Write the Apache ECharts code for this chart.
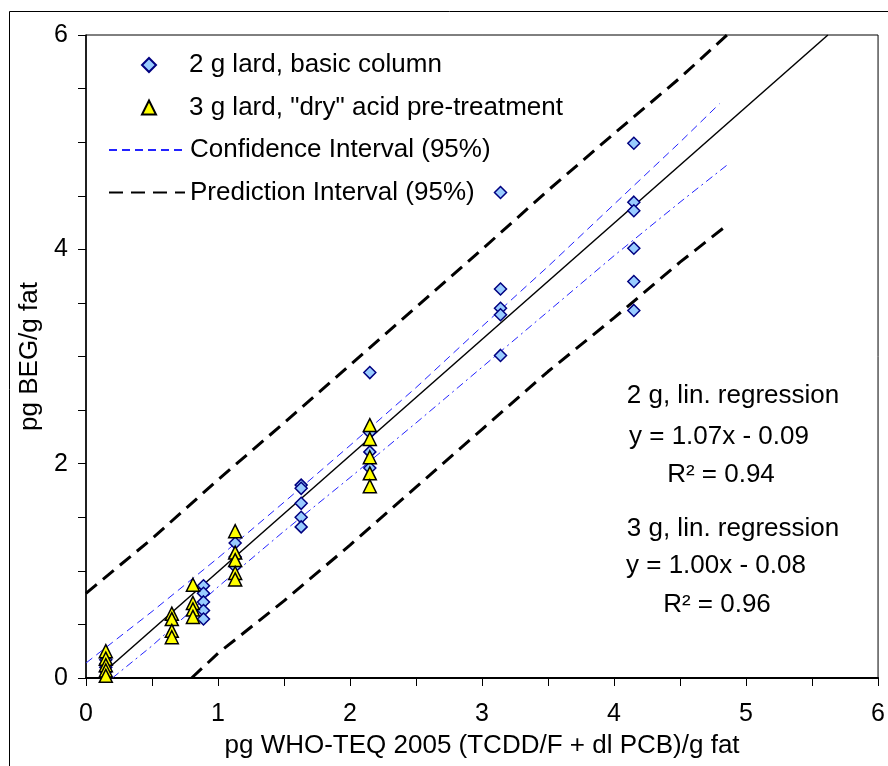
<!DOCTYPE html>
<html>
<head>
<meta charset="utf-8">
<script src="https://cdn.jsdelivr.net/npm/echarts@6/dist/echarts.min.js"></script>
<style>
html,body{margin:0;padding:0;background:#fff;}
#chart{width:888px;height:766px;}
</style>
</head>
<body>
<div id="chart"></div>
<script>
// ---- data ----
const xTicks = [0, 1, 2, 3, 4, 5, 6];
const yTicks = [0, 2, 4, 6];

const lard2g = [
  [0.15, 0.17], [0.15, 0.13], [0.15, 0.10], [0.15, 0.06],
  [0.89, 0.86], [0.89, 0.79], [0.89, 0.71], [0.89, 0.63], [0.89, 0.55],
  [1.13, 1.26], [1.13, 1.13], [1.13, 1.04],
  [1.63, 1.80], [1.63, 1.77], [1.63, 1.63], [1.63, 1.50], [1.63, 1.41],
  [2.15, 2.85], [2.15, 2.29], [2.15, 2.11], [2.15, 1.96],
  [3.14, 4.53], [3.14, 3.63], [3.14, 3.45], [3.14, 3.39], [3.14, 3.01],
  [4.15, 4.99], [4.15, 4.44], [4.15, 4.36], [4.15, 4.01], [4.15, 3.70], [4.15, 3.43]
];

const lard3g = [
  [0.15, 0.25], [0.15, 0.18], [0.15, 0.12], [0.15, 0.07], [0.15, 0.02],
  [0.65, 0.60], [0.65, 0.55], [0.65, 0.44], [0.65, 0.38],
  [0.81, 0.87], [0.81, 0.70], [0.81, 0.64], [0.81, 0.57],
  [1.13, 1.37], [1.13, 1.17], [1.13, 1.10], [1.13, 0.98], [1.13, 0.92],
  [2.15, 2.36], [2.15, 2.23], [2.15, 2.06], [2.15, 1.91], [2.15, 1.79]
];

const regressionLine = [[0.15, 0.07], [5.62, 6.0]];

const ciUpper = [[0, 0.14], [0.5, 0.62], [1, 1.12], [1.5, 1.64], [2, 2.17], [2.5, 2.71],
  [3, 3.28], [3.5, 3.84], [4, 4.42], [4.5, 5.0], [4.8, 5.36]];
const ciLower = [[0.2, 0], [0.5, 0.30], [1, 0.85], [1.5, 1.37], [2, 1.87], [2.5, 2.38],
  [3, 2.90], [3.5, 3.42], [4, 3.94], [4.5, 4.44], [4.86, 4.79]];
const piUpper = [[0, 0.79], [0.5, 1.30], [1, 1.85], [1.5, 2.38], [2, 2.92], [2.5, 3.46],
  [3, 4.00], [3.5, 4.55], [4, 5.08], [4.5, 5.60], [4.9, 6.05]];
const piLower = [[0.8, 0], [1, 0.23], [1.5, 0.72], [2, 1.24], [2.5, 1.78], [3, 2.32],
  [3.5, 2.86], [4, 3.36], [4.5, 3.88], [4.83, 4.20]];

const seriesNames = ['2 g lard, basic column', '3 g lard, "dry" acid pre-treatment',
  'Confidence Interval (95%)', 'Prediction Interval (95%)'];

const annotations = [
  {text: '2 g, lin. regression', x: 733, y: 396},
  {text: 'y = 1.07x - 0.09', x: 719, y: 437},
  {text: 'R\u00B2 = 0.94', x: 721, y: 475},
  {text: '3 g, lin. regression', x: 733, y: 529},
  {text: 'y = 1.00x - 0.08', x: 716, y: 566},
  {text: 'R\u00B2 = 0.96', x: 717, y: 605}
];

// ---- chart ----
const FONT = "'Liberation Sans', Arial, sans-serif";
const chart = echarts.init(document.getElementById('chart'), null, {renderer: 'canvas'});

const legendText = {fontSize: 26, color: '#000', fontFamily: FONT, lineHeight: 30};

const option = {
  animation: false,
  backgroundColor: '#fff',
  textStyle: {fontFamily: FONT, color: '#000'},
  grid: {left: 86, top: 35, right: 5, bottom: 88, show: true, borderColor: '#000', borderWidth: 1, backgroundColor: 'transparent'},
  xAxis: {
    type: 'value', min: 0, max: 6, interval: 0.5,
    name: 'pg WHO-TEQ 2005 (TCDD/F + dl PCB)/g fat',
    nameLocation: 'middle', nameGap: 55,
    nameTextStyle: {fontSize: 26, color: '#000', fontFamily: FONT},
    axisLine: {lineStyle: {color: '#000', width: 2}},
    axisTick: {inside: false, length: 8, lineStyle: {color: '#000', width: 1}},
    axisLabel: {
      fontSize: 25, color: '#000', fontFamily: FONT, margin: 24,
      formatter: v => (xTicks.indexOf(v) >= 0 ? String(v) : '')
    },
    splitLine: {show: false}
  },
  yAxis: {
    type: 'value', min: 0, max: 6, interval: 0.5,
    name: 'pg BEG/g fat',
    nameLocation: 'middle', nameGap: 38,
    nameTextStyle: {fontSize: 26, color: '#000', fontFamily: FONT},
    axisLine: {show: true, lineStyle: {color: '#000', width: 1.5}},
    axisTick: {show: true, inside: false, length: 8, lineStyle: {color: '#000', width: 1}},
    axisLabel: {
      fontSize: 25, color: '#000', fontFamily: FONT, margin: 18,
      formatter: v => (yTicks.indexOf(v) >= 0 ? String(v) : '')
    },
    splitLine: {show: false}
  },
  legend: [
    {
      orient: 'vertical', left: 136, top: 45,
      itemWidth: 14, itemHeight: 14, itemGap: 12.5,
      symbolKeepAspect: true,
      textStyle: Object.assign({padding: [0, 0, 0, 28]}, legendText),
      data: [seriesNames[0], seriesNames[1]],
      selectedMode: false
    },
    {
      orient: 'vertical', left: 103, top: 130,
      itemWidth: 76, itemHeight: 14, itemGap: 12.5,
      textStyle: legendText,
      data: [
        {name: seriesNames[2], itemStyle: {opacity: 0}},
        {name: seriesNames[3], itemStyle: {opacity: 0}}
      ],
      selectedMode: false
    }
  ],
  series: [
    {
      name: seriesNames[3], type: 'line', data: piUpper, symbol: 'none', z: 2,
      itemStyle: {color: '#000', opacity: 0},
      lineStyle: {color: '#000', width: 3, type: [14, 8]}, silent: true
    },
    {
      name: seriesNames[3], type: 'line', data: piLower, symbol: 'none', z: 2,
      itemStyle: {color: '#000', opacity: 0},
      lineStyle: {color: '#000', width: 3, type: [14, 8]}, silent: true
    },
    {
      name: seriesNames[2], type: 'line', data: ciUpper, symbol: 'none', z: 2,
      itemStyle: {color: '#2222ff', opacity: 0},
      lineStyle: {color: '#2222ff', width: 1, type: [8, 5]}, silent: true
    },
    {
      name: seriesNames[2], type: 'line', data: ciLower, symbol: 'none', z: 2,
      itemStyle: {color: '#2222ff', opacity: 0},
      lineStyle: {color: '#2222ff', width: 1, type: [8, 4, 2, 4]}, silent: true
    },
    {
      name: 'regression', type: 'line', data: regressionLine, symbol: 'none', z: 2,
      lineStyle: {color: '#000', width: 1.5}, silent: true
    },
    {
      name: seriesNames[0], type: 'scatter', data: lard2g, symbol: 'diamond', symbolSize: 12, z: 3,
      itemStyle: {color: '#99ccff', borderColor: '#000080', borderWidth: 1.5, opacity: 1}
    },
    {
      name: seriesNames[1], type: 'scatter', data: lard3g, symbol: 'triangle', symbolSize: 13, z: 4,
      itemStyle: {color: '#ffff00', borderColor: '#000', borderWidth: 1.5, opacity: 1}
    }
  ],
  graphic: [
    {type: 'rect', z: -1, silent: true, shape: {x: 9.5, y: 11.5, width: 900, height: 800},
     style: {fill: 'none', stroke: '#000', lineWidth: 1}}
  ].concat(annotations.map(a => ({
    type: 'text', x: a.x, y: a.y, silent: true,
    style: {text: a.text, fontSize: 26, fontFamily: FONT, fill: '#000', textAlign: 'center', textVerticalAlign: 'middle'}
  })))
};

chart.setOption(option);
</script>
</body>
</html>
